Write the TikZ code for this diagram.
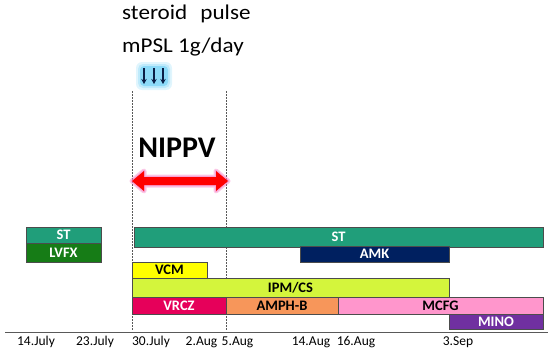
\documentclass[tikz,border=0pt]{standalone}
\usepackage{fontspec}
\setmainfont{Carlito}
\usetikzlibrary{arrows.meta}
\definecolor{stcol}{RGB}{32,158,122}
\definecolor{lvfxcol}{RGB}{22,124,22}
\definecolor{amkcol}{RGB}{0,32,96}
\definecolor{vcmcol}{RGB}{255,255,0}
\definecolor{ipmcol}{RGB}{212,245,60}
\definecolor{vrczcol}{RGB}{230,0,90}
\definecolor{amphcol}{RGB}{247,150,90}
\definecolor{mcfgcol}{RGB}{255,150,204}
\definecolor{minocol}{RGB}{112,48,160}
\definecolor{navyarrow}{RGB}{10,30,70}
\tikzset{
  bar/.style={draw=gray!60!black, line width=0.5pt, inner sep=0pt, outer sep=0pt, anchor=north west,
    font=\fontsize{14.5}{15}\selectfont\bfseries},
  datelbl/.style={anchor=base, inner sep=0pt, font=\fontsize{13.5}{14}\selectfont},
  toptxt/.style={anchor=base west, inner sep=0pt, font=\fontsize{21}{22}\selectfont, xscale=1.1},
  guide/.style={gray!70!black, line width=0.5pt, dash pattern=on 1.5pt off 1.5pt},
  pulsearrow/.style={navyarrow, line width=1.5pt, -{Stealth[length=5pt,width=5.5pt]}}
}
\begin{document}
\begin{tikzpicture}[x=1pt,y=-1pt]
\useasboundingbox (0,0) rectangle (550,351);
% top text
\node[toptxt] (steroid) at (122,19) {steroid\hspace{12pt}pulse};
\node[toptxt] (mpsl) at (122,52) {mPSL 1g/day};
% glow behind pulse arrows
\fill[cyan!12, rounded corners=6pt] (136,62) rectangle (172,90);
\fill[cyan!25, rounded corners=5pt] (138,64) rectangle (170,88);
\fill[cyan!45, rounded corners=4pt] (140,66) rectangle (168,86);
\coordinate (a1s) at (144,68); \coordinate (a1e) at (144,84);
\coordinate (a2s) at (154,68); \coordinate (a2e) at (154,84);
\coordinate (a3s) at (163,68); \coordinate (a3e) at (163,84);
\draw[pulsearrow] (a1s) -- (a1e);
\draw[pulsearrow] (a2s) -- (a2e);
\draw[pulsearrow] (a3s) -- (a3e);
% guide lines
\coordinate (g1t) at (132,91); \coordinate (g1b) at (132,331);
\coordinate (g2t) at (226,91); \coordinate (g2b) at (226,331);
\draw[guide] (g1t) -- (g1b);
\draw[guide] (g2t) -- (g2b);
% NIPPV
\node[anchor=base, inner sep=0pt, font=\fontsize{30}{32}\selectfont\bfseries] (nippv) at (177,157) {NIPPV};
\path[draw=magenta!60, line width=5pt, line join=round, opacity=0.35, fill=red]
  (132,181) -- (144,171) -- (144,177) -- (216,177) -- (216,171) -- (228,181) -- (216,191) -- (216,185) -- (144,185) -- (144,191) -- cycle;
\path[draw=magenta!50, line width=2.5pt, line join=round, opacity=0.5]
  (132,181) -- (144,171) -- (144,177) -- (216,177) -- (216,171) -- (228,181) -- (216,191) -- (216,185) -- (144,185) -- (144,191) -- cycle;
\fill[red] (132,181) -- (144,171) -- (144,177) -- (216,177) -- (216,171) -- (228,181) -- (216,191) -- (216,185) -- (144,185) -- (144,191) -- cycle;
% bars
\node[bar, fill=stcol, text=white, minimum width=75, minimum height=16] (st1) at (26,227) {ST};
\node[bar, fill=lvfxcol, text=white, minimum width=75, minimum height=19] (lvfx) at (26,243) {LVFX};
\node[bar, fill=stcol, text=white, minimum width=409, minimum height=20] (st2) at (134,227) {ST};
\node[bar, fill=amkcol, text=white, minimum width=149, minimum height=16.5] (amk) at (300,246) {AMK};
\node[bar, fill=vcmcol, text=black, minimum width=75, minimum height=16] (vcm) at (132,262) {VCM};
\node[bar, fill=ipmcol, text=black, minimum width=317, minimum height=19] (ipm) at (132,278) {IPM/CS};
\node[bar, fill=vrczcol, text=white, minimum width=94, minimum height=17] (vrcz) at (132,297) {VRCZ};
\node[bar, fill=amphcol, text=black, minimum width=112, minimum height=17] (amph) at (226,297) {AMPH-B};
\node[bar, fill=mcfgcol, text=black, minimum width=205, minimum height=17] (mcfg) at (338,297) {MCFG};
\node[bar, fill=minocol, text=white, minimum width=94, minimum height=15.5] (mino) at (449,314) {MINO};
% axis
\coordinate (axl) at (5,332); \coordinate (axr) at (548,332);
\draw[gray!70!black, line width=1pt] (axl) -- (axr);
\node[datelbl] (d1) at (36,345) {14.July};
\node[datelbl] (d2) at (95,345) {23.July};
\node[datelbl] (d3) at (151,345) {30.July};
\node[datelbl] (d4) at (201.5,345) {2.Aug};
\node[datelbl] (d5) at (237.5,345) {5.Aug};
\node[datelbl] (d6) at (311,345) {14.Aug};
\node[datelbl] (d7) at (356,345) {16.Aug};
\node[datelbl] (d8) at (458,345) {3.Sep};
\end{tikzpicture}
\end{document}
